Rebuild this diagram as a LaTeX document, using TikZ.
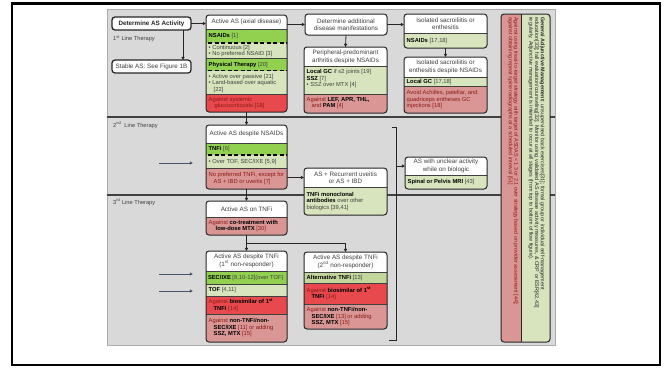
\documentclass[tikz,border=0pt]{standalone}
\usepackage{fontspec}
\setmainfont{Liberation Sans}
\usetikzlibrary{arrows.meta}
\definecolor{panel}{HTML}{D9D9D9}
\definecolor{bgreen}{HTML}{92D050}
\definecolor{lgreen}{HTML}{D7E4BD}
\definecolor{mgreen}{HTML}{C3D69B}
\definecolor{pinkr}{HTML}{D99694}
\definecolor{bred}{HTML}{E8494C}
\definecolor{txt}{HTML}{404040}
\definecolor{dred}{HTML}{8B1A1A}
\definecolor{navy}{HTML}{44546A}
\newcommand\B[1]{\textcolor{black}{\bfseries #1}}
\newcommand\mkbox[5]{%
  \pgfmathsetmacro\mkW{#4-#2}\pgfmathsetmacro\mkH{#5-#3}%
  \pgfmathsetmacro\mkX{(#2+#4)/2}\pgfmathsetmacro\mkY{(#3+#5)/2}%
  \node[holder, minimum width=\mkW pt, minimum height=\mkH pt] (#1) at (\mkX,\mkY) {};}
\newcommand\fillband[3]{\fill[#1] (0,#2) rectangle (667,#3);}
\newcommand\bline[2][sep]{\draw[#1] (0,#2) -- (667,#2);}
\newcommand\clipto[1]{\clip[rounded corners=3pt] (#1.north west) rectangle (#1.south east);}
\begin{document}
\begin{tikzpicture}[x=1pt,y=-1pt,
  holder/.style={rectangle, inner sep=0pt, outer sep=0pt},
  hd/.style={font=\fontsize{6.3}{7.5}\selectfont, text=txt, align=center, inner sep=0pt},
  bt/.style={font=\fontsize{5.8}{6.5}\selectfont, text=txt, align=left, anchor=west, inner sep=0pt},
  rt/.style={bt, text=dred},
  lab/.style={font=\fontsize{5.7}{6.5}\selectfont, text=txt, anchor=west, inner sep=0pt},
  edge/.style={draw=black!85, line width=1pt, rounded corners=3pt},
  sep/.style={draw=black!75, line width=0.5pt},
  dsep/.style={draw=black, line width=1.2pt, dash pattern=on 4pt off 2.5pt},
  divider/.style={draw=black!75, line width=1.4pt},
  arr/.style={draw=black!85, line width=0.8pt, -{Triangle[length=3.2pt,width=3.2pt]}},
  barr/.style={draw=navy, line width=0.8pt, -{Triangle[length=3.2pt,width=3pt]}},
]
\useasboundingbox (0,0) rectangle (667,367);
\fill[white] (0,0) rectangle (667,367);
\draw[line width=2.2pt] (12,3.5) rectangle (660,365);
\fill[panel] (107,9.5) rectangle (555,345);
\draw[gray!65, line width=0.5pt] (107,9.5) rectangle (555,345);
\draw[divider] (107,117) -- (555,117);
\draw[divider] (107,195) -- (555,195);

\node[lab] (L1) at (113,39) {1\textsuperscript{st} Line Therapy};
\node[lab] (L2) at (113,125) {2\textsuperscript{nd}\ \ Line Therapy};
\node[lab] (L3) at (113,202) {3\textsuperscript{rd} Line Therapy};

% A
\mkbox{A}{112}{17}{191}{30}
\draw[edge, fill=white, line width=1.3pt] (A.north west) rectangle (A.south east);
\node[hd, font=\bfseries\fontsize{6.3}{7.5}\selectfont, text=black!85] (At) at (A) {Determine AS Activity};
% B
\mkbox{B}{112}{60}{191}{73}
\draw[edge, fill=white, line width=1.2pt] (B.north west) rectangle (B.south east);
\node[hd] (Bt) at (B) {Stable AS: See Figure 1B};

% C
\mkbox{C}{206}{15}{287}{112}
\begin{scope}\clipto{C}
\fillband{white}{15}{29}\fillband{bgreen}{29}{43}\fillband{lgreen}{43}{58}
\fillband{bgreen}{58}{70.5}\fillband{lgreen}{70.5}{94.5}\fillband{bred}{94.5}{112}
\bline{29}\bline[dsep]{43}\bline{58}\bline[dsep]{70.5}\bline{94.5}
\end{scope}
\draw[edge] (C.north west) rectangle (C.south east);
\node[hd] (Ch) at (246.5,22) {Active AS (axial disease)};
\node[bt] (C1) at (208.5,36) {\B{NSAIDs} [1]};
\node[bt] (C2) at (208.5,51.2) {• Continuous [2]\\• No preferred NSAID [3]};
\node[bt] (C3) at (208.5,64.5) {\B{Physical Therapy} [20]};
\node[bt] (C4) at (208.5,83) {• Active over passive [21]\\• Land-based over aquatic\\\hspace*{5pt}[22]};
\node[rt] (C5) at (208.5,103) {Against systemic\\\hspace*{6pt}glucocorticoids [18]};

% D
\mkbox{D}{305}{14}{387}{35}
\draw[edge, fill=white] (D.north west) rectangle (D.south east);
\node[hd] (Dt) at (D) {Determine additional\\disease manifestations};

% E
\mkbox{E}{304}{47}{387}{113}
\begin{scope}\clipto{E}
\fillband{white}{47}{66.5}\fillband{lgreen}{66.5}{94}\fillband{pinkr}{94}{113}
\bline{66.5}\bline{94}
\end{scope}
\draw[edge] (E.north west) rectangle (E.south east);
\node[hd] (Eh) at (345.5,57) {Peripheral-predominant\\arthritis despite NSAIDs};
\node[bt] (E1) at (306.5,78.5) {\B{Local GC} if ≤2 joints [19]\\\B{SSZ} [7]\\• SSZ over MTX [4]};
\node[rt] (E2) at (306.5,103) {Against \B{LEF, APR, THL,}\\\hspace*{5pt}and \B{PAM} [4]};

% F
\mkbox{F}{404}{14}{487}{48}
\begin{scope}\clipto{F}
\fillband{white}{14}{33}\fillband{lgreen}{33}{48}\bline{33}
\end{scope}
\draw[edge] (F.north west) rectangle (F.south east);
\node[hd] (Fh) at (445.5,23.5) {Isolated sacroiliitis or\\enthesitis};
\node[bt] (F1) at (406.5,40.5) {\B{NSAIDs} [17,18]};

% G
\mkbox{G}{404}{57}{487}{113}
\begin{scope}\clipto{G}
\fillband{white}{57}{77}\fillband{lgreen}{77}{86}\fillband{pinkr}{86}{113}
\bline{77}\bline{86}
\end{scope}
\draw[edge] (G.north west) rectangle (G.south east);
\node[hd] (Gh) at (445.5,67) {Isolated sacroiliitis or\\enthesitis despite NSAIDs};
\node[bt] (G1) at (406.5,81.5) {\B{Local GC} [17,18]};
\node[rt] (G2) at (406.5,99.5) {Avoid Achilles, patellar, and\\quadriceps entheses GC\\injections [18]};

% H
\mkbox{H}{206}{125}{287}{189}
\begin{scope}\clipto{H}
\fillband{white}{125}{143}\fillband{bgreen}{143}{155}\fillband{lgreen}{155}{168}\fillband{pinkr}{168}{189}
\bline{143}\bline[dsep]{155}\bline{168}
\end{scope}
\draw[edge] (H.north west) rectangle (H.south east);
\node[hd] (Hh) at (246.5,134) {Active AS despite NSAIDs};
\node[bt] (H1) at (208.5,149) {\B{TNFi} [6]};
\node[bt] (H2) at (208.5,161.8) {• Over TOF, SEC/IXE [5,9]};
\node[rt] (H3) at (208.5,178.5) {No preferred TNFi, except for\\\hspace*{5pt}AS + IBD or uveitis [7]};

% I
\mkbox{I}{304}{168}{387}{215}
\begin{scope}\clipto{I}
\fillband{white}{168}{187}\fillband{lgreen}{187}{215}\bline{187}
\end{scope}
\draw[edge] (I.north west) rectangle (I.south east);
\node[hd] (Ih) at (345.5,177.5) {AS + Recurrent uveitis\\or AS + IBD};
\node[bt] (I1) at (306.5,201) {\B{TNFi monoclonal}\\\B{antibodies} over other\\biologics [39,41]};

% J
\mkbox{J}{405}{157}{487}{189}
\begin{scope}\clipto{J}
\fillband{white}{157}{175}\fillband{lgreen}{175}{189}\bline{175}
\end{scope}
\draw[edge] (J.north west) rectangle (J.south east);
\node[hd] (Jh) at (446,166) {AS with unclear activity\\while on biologic};
\node[bt] (J1) at (407.5,182) {\B{Spinal or Pelvis MRI} [43]};

% K
\mkbox{K}{206}{201}{287}{235}
\begin{scope}\clipto{K}
\fillband{white}{201}{217}\fillband{pinkr}{217}{235}\bline{217}
\end{scope}
\draw[edge] (K.north west) rectangle (K.south east);
\node[hd] (Kh) at (246.5,209) {Active AS on TNFi};
\node[rt] (K1) at (208.5,226) {Against \B{co-treatment with}\\\hspace*{7pt}\B{low-dose MTX} [30]};

% L
\mkbox{L}{206}{251}{287}{342}
\begin{scope}\clipto{L}
\fillband{white}{251}{271}\fillband{bgreen}{271}{284}\fillband{lgreen}{284}{296}
\fillband{bred}{296}{314}\fillband{pinkr}{314}{342}
\bline{271}\bline{284}\bline{296}\bline{314}
\end{scope}
\draw[edge] (L.north west) rectangle (L.south east);
\node[hd] (Lh) at (246.5,261) {Active AS despite TNFi\\(1\textsuperscript{st} non-responder)};
\node[bt] (L1t) at (207.8,277.5) {\B{SEC/IXE} [8,10-12](over TOF)};
\node[bt] (L2t) at (208.5,290) {\B{TOF} [4,11]};
\node[rt] (L3t) at (208.5,305) {Against \B{biosimilar of 1\textsuperscript{st}}\\\hspace*{5pt}\B{TNFi} [14]};
\node[rt] (L4t) at (208.5,327.5) {Against \B{non-TNFi/non-}\\\hspace*{5pt}\B{SEC/IXE} [11] or adding\\\hspace*{5pt}\B{SSZ, MTX} [15]};

% M
\mkbox{M}{304}{252}{387}{329}
\begin{scope}\clipto{M}
\fillband{white}{252}{272}\fillband{mgreen}{272}{283}\fillband{bred}{283}{304}\fillband{pinkr}{304}{329}
\bline{272}\bline{283}\bline{304}
\end{scope}
\draw[edge] (M.north west) rectangle (M.south east);
\node[hd] (Mh) at (345.5,262) {Active AS despite TNFi\\(2\textsuperscript{nd} non-responder)};
\node[bt] (M1) at (306.5,277.5) {\B{Alternative TNFi} [13]};
\node[rt] (M2) at (306.5,293.5) {Against \B{biosimilar of 1\textsuperscript{st}}\\\hspace*{5pt}\B{TNFi} [14]};
\node[rt] (M3) at (306.5,316.5) {Against \B{non-TNFi/non-}\\\hspace*{5pt}\B{SEC/IXE} [13] or adding\\\hspace*{5pt}\B{SSZ, MTX} [15]};

% right bar
\mkbox{R}{501}{14}{550}{342}
\begin{scope}\clip[rounded corners=4pt] (R.north west) rectangle (R.south east);
\fill[pinkr] (501,0) rectangle (521,367);
\fill[lgreen] (521,0) rectangle (550,367);
\end{scope}
\draw[black!85, line width=0.8pt] (R.north west) ++(20,0) -- ([xshift=20pt]R.south west);
\draw[edge] (R.north west) rectangle (R.south east);
\node[rotate=-90, anchor=west, align=left, inner sep=0pt, font=\fontsize{5.4}{5.7}\selectfont, text=black!85] (Rg) at (536.5,17)
 {\textbf{General Adjunctive Management:} unsupervised back exercises[31]; formal group or individual self-management\\
  education[33]; fall evaluation/counseling[32]. Monitor using validated AS disease activity measures, \& CRP or ESR[42,43]\\
  regularly. Adjunctive management is intended to occur at all stages (from top to bottom of flow figure).};
\node[rotate=-90, anchor=west, align=left, inner sep=0pt, font=\fontsize{5.4}{5.7}\selectfont, text=dred] (Rr) at (513,17)
 {Against using treat-to-target strategy with target of ASDAS < 1.3 or 2.1 over strategy based on provider assessment [44];\\
  against obtaining repeat spine radiographs at a scheduled interval [51]};

% connectors
\coordinate (a1) at ([xshift=-8pt]A.south east);
\draw[arr] (a1) -- (a1 |- B.north);
\draw[arr] (A.east) -- (A.east -| C.west);
\draw[arr] (C.east |- D.west) -- (D.west);
\draw[arr] (D.east) -- (D.east -| F.west);
\draw[arr] (D.south) -- (E.north);
\draw[arr] (F.south) -- (G.north);
\draw[arr] (C.south) -- (H.north);
\draw[arr] (H.east |- Ih) -- (I.west |- Ih);
\draw[arr] (H.south) -- (K.north);
\draw[arr] (K.south) -- (L.north);
\coordinate (br) at (246.5,243);
\draw[arr] (br) -| (M.north);
\coordinate (brT) at (396,127);
\coordinate (brB) at (396,340);
\draw[draw=black!85, line width=0.9pt] ([xshift=-4pt]brT) -- (brT) -- (brB) -- ([xshift=-7pt]brB);
\draw[arr] (brT |- Jh) -- (J.west |- Jh);

\coordinate (b1) at (159,163);
\coordinate (b2) at (159,274);
\coordinate (b3) at (159,291);
\draw[barr] (b1) -- ++(34,0);
\draw[barr] (b2) -- ++(34,0);
\draw[barr] (b3) -- ++(34,0);
\end{tikzpicture}
\end{document}
